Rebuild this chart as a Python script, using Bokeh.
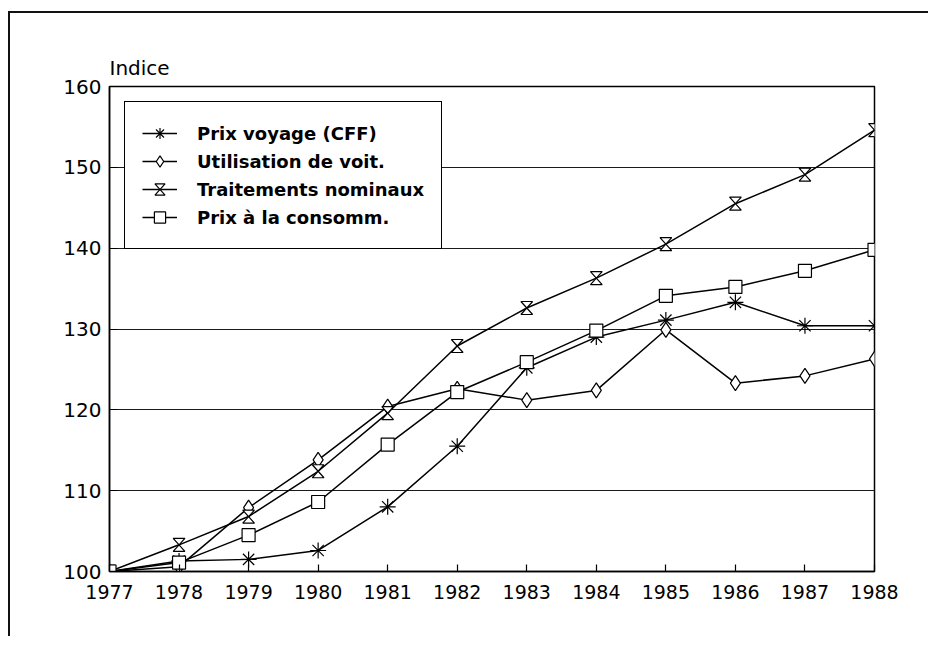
from bokeh.plotting import figure
from bokeh.models import (FixedTicker, Legend, LegendItem, CustomJS, Range1d)
from bokeh.embed import file_html
from bokeh.resources import INLINE

years = [1977, 1978, 1979, 1980, 1981, 1982, 1983, 1984, 1985, 1986, 1987, 1988]
prix_voyage = [100, 101.3, 101.5, 102.6, 108.0, 115.5, 125.2, 129.0, 131.1, 133.3, 130.4, 130.4]
utilisation = [100, 100.6, 107.9, 113.8, 120.4, 122.6, 121.2, 122.4, 129.9, 123.3, 124.2, 126.3]
traitements = [100, 103.3, 106.8, 112.4, 119.6, 127.9, 132.6, 136.3, 140.5, 145.5, 149.1, 154.6]
consomm = [100, 101.1, 104.5, 108.6, 115.7, 122.2, 125.9, 129.8, 134.1, 135.2, 137.2, 139.8]

labels = ["Prix voyage (CFF)", "Utilisation de voit.", "Traitements nominaux", "Prix à la consomm."]
y_ticks = [100, 110, 120, 130, 140, 150, 160]

FONT = "DejaVu Sans"

p = figure(width=920, height=625, output_backend="svg", toolbar_location=None,
           x_range=Range1d(1977, 1988), y_range=Range1d(100, 160),
           min_border_left=99, min_border_right=56, min_border_top=73, min_border_bottom=67,
           background_fill_color="white", border_fill_color="white")
p.styles = {"border-left": "2px solid #111", "border-top": "2px solid #111",
            "margin-left": "8px", "margin-top": "11px"}

p.title.text = "Indice"
p.title.align = "left"
p.title.text_font = FONT
p.title.text_font_size = "20px"
p.title.text_font_style = "normal"
p.title.text_color = "black"
p.title.standoff = 13

p.outline_line_color = "black"
p.outline_line_width = 1.5

p.xaxis.ticker = FixedTicker(ticks=years)
p.yaxis.ticker = FixedTicker(ticks=y_ticks)
p.xaxis.minor_tick_line_color = None
p.yaxis.minor_tick_line_color = None
p.xaxis.major_tick_in = 7
p.xaxis.major_tick_out = 0
p.yaxis.major_tick_in = 8
p.yaxis.major_tick_out = 0
for ax in (p.xaxis, p.yaxis):
    ax.axis_line_color = "black"
    ax.axis_line_width = 1.5
    ax.major_tick_line_color = "black"
    ax.major_tick_line_width = 1.2
    ax.major_label_text_font = FONT
    ax.major_label_text_color = "black"
p.xaxis.major_label_text_font_size = "19px"
p.yaxis.major_label_text_font_size = "20px"
p.xaxis.major_label_standoff = 13
p.yaxis.major_label_standoff = 8

p.xgrid.grid_line_color = None
p.ygrid.ticker = FixedTicker(ticks=y_ticks)
p.ygrid.grid_line_color = "#1a1a1a"
p.ygrid.grid_line_width = 1.1

hourglass = CustomJS(code="""
export default (args, obj, {ctx, i, r, visuals}) => {
  const w = 0.9*r
  ctx.beginPath()
  ctx.moveTo(-w, -r)
  ctx.lineTo(w, -r)
  ctx.lineTo(-w, r)
  ctx.lineTo(w, r)
  ctx.closePath()
  visuals.fill.apply(ctx, i)
  visuals.line.apply(ctx, i)
}
""")

series = [prix_voyage, utilisation, traitements, consomm]
markers = ["asterisk", "diamond", "@hourglass", "square"]
sizes = [16, 15, 13, 13]

line_rs = []
for vals in series:
    line_rs.append(p.line(years, vals, line_color="black", line_width=1.5))

mark_rs = []
for vals, mk, sz in zip(series, markers, sizes):
    kw = dict(marker=mk, size=sz, line_color="black", line_width=1.2, fill_color="white")
    if mk.startswith("@"):
        kw["defs"] = {"@hourglass": hourglass}
    mark_rs.append(p.scatter(years, vals, **kw))

items = [LegendItem(label=lab, renderers=[lr, mr]) for lab, lr, mr in zip(labels, line_rs, mark_rs)]
legend = Legend(items=items, location="top_left", margin=15, padding=17,
                spacing=0, glyph_width=35, glyph_height=28, label_height=28,
                label_standoff=20, label_text_font=FONT, label_text_font_size="18px",
                label_text_font_style="bold", label_text_color="black",
                border_line_color="black", border_line_width=1.2, border_line_alpha=1.0,
                background_fill_color="white", background_fill_alpha=1.0)
p.add_layout(legend)

open("out.html", "w").write(file_html(p, INLINE))
